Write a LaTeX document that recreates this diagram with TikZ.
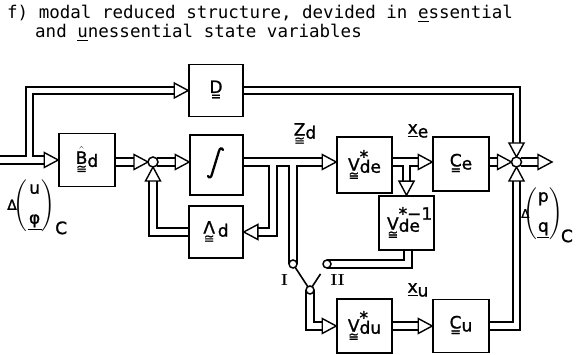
\documentclass[tikz,border=0pt]{standalone}
\usepackage{amsmath}
\usepackage{fontspec}
\newfontfamily\dv[FakeBold=1.2]{DejaVu Sans}
\newfontfamily\dvm{DejaVu Sans Mono}
\usetikzlibrary{calc,backgrounds}
\newcommand\mtx[2]{\vtop{\offinterlineskip\halign{\hfil##\hfil\cr\hbox{#1}\cr\noalign{\kern1.8pt}\hbox{\fontsize{12.5}{12}\selectfont #2}\cr}}}
\newcommand\triR[1]{\draw[tri] #1 -- ++(-14,-7.5) -- ++(0,15) -- cycle;}
\newcommand\triL[1]{\draw[tri] #1 -- ++(14,-7.5) -- ++(0,15) -- cycle;}
\newcommand\triD[1]{\draw[tri] #1 -- ++(-7.5,-14) -- ++(15,0) -- cycle;}
\newcommand\triU[1]{\draw[tri] #1 -- ++(-7.5,14) -- ++(15,0) -- cycle;}
\newcommand\allbuses[1]{%
\draw[#1] (inL) -- ($(B.west)+(-14,0)$);
\draw[#1] (inJ) -- (inT) -- ($(D.west)+(-14,0)$);
\draw[#1] (B.east |- S1.center) -- ($(S1.center)+(-19,0)$);
\draw[#1] ($(S1.center)+(4,0)$) -- ($(Int.west |- S1.center)+(-14,0)$);
\draw[#1] (Lam.west) -- (Lam.west -| S1.center) -- ($(S1.center)+(0,19)$);
\draw[#1] (Int.east |- S1.center) -- ($(Vde.west |- S1.center)+(-14,0)$);
\draw[#1] (jL) -- (jL |- Lam.east) -- ($(Lam.east)+(14,0)$);
\draw[#1] (jS) -- (cI.center);
\draw[#1] (Vde.east |- S1.center) -- ($(Ce.west |- S1.center)+(-14,0)$);
\draw[#1] (jV) -- ($(Vinv.north)+(0,-14)$);
\draw[#1] (vo) -- (vo |- cII.center) -- (cII.center);
\draw[#1] (cC.center) -- (cC.center |- Vdu.west) -- ($(Vdu.west)+(-14,0)$);
\draw[#1] (Vdu.east) -- ($(Cu.west)+(-14,0)$);
\draw[#1] (Ce.east |- S2.center) -- ($(S2.center)+(-19,0)$);
\draw[#1] ($(S2.center)+(4,0)$) -- ($(out)+(-14,0)$);
\draw[#1] (D.east) -- (D.east -| S2.center) -- ($(S2.center)+(0,-19)$);
\draw[#1] (Cu.east) -- (Cu.east -| S2.center) -- ($(S2.center)+(0,19)$);
}
\begin{document}
\begin{tikzpicture}[x=1pt,y=-1pt,
  box/.style={draw, line width=1.6pt, fill=white, inner sep=0pt, font=\dv\fontsize{17}{19}\selectfont},
  tri/.style={draw, line width=1.4pt, fill=white, line join=miter},
  busout/.style={line width=9.3pt, line join=miter, black},
  busin/.style={line width=5.9pt, line join=miter, white},
  sig/.style={line width=1.6pt},
  sw/.style={circle, draw, line width=1.5pt, fill=white, minimum size=8pt, inner sep=0pt},
  junc/.style={circle, draw, line width=1.5pt, fill=white, minimum size=10pt, inner sep=0pt},
  lbl/.style={font=\dv\fontsize{17}{19}\selectfont, inner sep=0pt},
  ttl/.style={font=\dvm\fontsize{17.5}{20}\selectfont, inner sep=0pt, anchor=base west},
  roman/.style={font=\bfseries\fontsize{16}{16}\selectfont, inner sep=0pt}]
\useasboundingbox (0,0) rectangle (579,355);

% title
\node[ttl] (t1) at (7,19) {f) modal reduced structure, devided in \underline{e}ssential};
\node[ttl] (t2) at (35,38) {and \underline{u}nessential state variables};

% blocks
\node[box, minimum width=54pt, minimum height=52pt] (D) at (216,90.5) {\mtx{D}{=}};
\node[box, minimum width=56pt, minimum height=53pt] (B) at (87,160) {\mtx{$\hat{\hbox{B}}$}{≅}\raisebox{-3pt}{d}};
\node[box, minimum width=53pt, minimum height=60pt] (Int) at (216.5,165) {};
\node[box, minimum width=54pt, minimum height=52pt] (Lam) at (216,232) {\mtx{Λ}{≅}\,\raisebox{-3pt}{d}};
\node[box, minimum width=55pt, minimum height=56pt] (Vde) at (364.5,165) {\mtx{V}{≅}\rlap{\raisebox{8pt}{*}}\raisebox{-2pt}{de}};
\node[box, minimum width=56pt, minimum height=54pt] (Ce) at (461,164) {\mtx{C}{=}\raisebox{-3pt}{e}};
\node[box, minimum width=55pt, minimum height=54pt] (Vinv) at (406.5,223) {\mtx{V}{≅}\rlap{\raisebox{10pt}{*−1}}\raisebox{-2pt}{de}\hspace*{6pt}};
\node[box, minimum width=55pt, minimum height=54pt] (Vdu) at (364.5,326) {\mtx{V}{≅}\rlap{\raisebox{8pt}{*}}\raisebox{-2pt}{du}};
\node[box, minimum width=56pt, minimum height=53pt] (Cu) at (461,326) {\mtx{C}{=}\raisebox{-3pt}{u}};
% integral sign
\draw[line width=2.3pt, line cap=round] ($(Int.center)+(-8.5,11)$) .. controls ($(Int.center)+(-7.5,13.5)$) and ($(Int.center)+(-5,12.5)$) .. ($(Int.center)+(-4.5,9)$) -- ($(Int.center)+(2.5,-14)$) .. controls ($(Int.center)+(3.3,-17)$) and ($(Int.center)+(5.5,-17.5)$) .. ($(Int.center)+(6.5,-15)$);

% junctions and switch
\node[junc] (S1) at (153,162) {};
\node[junc] (S2) at (516.5,162) {};
\node[sw] (cI) at (293,264) {};
\node[sw] (cII) at (327,264) {};
\node[sw] (cC) at (310,290) {};

\coordinate (inL) at (0,160);
\coordinate (inJ) at (29.5,160);
\coordinate (inT) at (29.5,90.5);
\coordinate (jL) at (273,162);
\coordinate (jS) at (293,162);
\coordinate (jV) at (406.5,162);
\coordinate (vo) at ($(Vinv.south)+(1.5,0)$);
\coordinate (out) at (552,162);

\begin{scope}[on background layer]
\allbuses{busout}
\allbuses{busin}
\triR{(B.west)}
\triR{(D.west)}
\triR{($(S1.center)+(-5,0)$)}
\triR{(Int.west |- S1.center)}
\triU{($(S1.center)+(0,5)$)}
\triL{(Lam.east)}
\triR{(Vde.west |- S1.center)}
\triR{(Ce.west |- S1.center)}
\triD{(Vinv.north)}
\triR{(Vdu.west)}
\triR{(Cu.west)}
\triR{($(S2.center)+(-5,0)$)}
\triR{(out)}
\triD{($(S2.center)+(0,-5)$)}
\triU{($(S2.center)+(0,5)$)}
\draw[sig] (cI.center) -- (cC.center);
\draw[sig] (cC.center) -- ($(cC.center)!0.62!(cII.center)$);
\end{scope}

% labels
\node[lbl] (zd) at (305,134) {\mtx{Z}{≅}\raisebox{-3pt}{d}};
\node[lbl] (xe) at (418,131) {\underline{x}\raisebox{-4pt}{e}};
\node[lbl] (xu) at (418,290) {\underline{x}\raisebox{-4pt}{u}};
\node[roman] (lI) at (284.5,280) {I};
\node[roman] (lII) at (337.5,280) {II};
\node[lbl, anchor=west] (inlab) at (7,207) {{\fontsize{14}{14}\selectfont Δ}$\!\left(\vcenter{\hbox{\begin{tabular}{@{}c@{}}u\\[11pt]\underline{\makebox[14pt]{φ}}\end{tabular}}}\right)_{\hbox{\raisebox{-2pt}{C}}}$};
\node[lbl, anchor=west] (outlab) at (521,215) {{\fontsize{12}{12}\selectfont Δ}$\!\!\left(\vcenter{\hbox{\begin{tabular}{@{}c@{}}p\\[11pt]\underline{\makebox[12pt]{q}}\end{tabular}}}\right)_{\hbox{\kern-2pt\raisebox{-2pt}{C}}}$};
\end{tikzpicture}
\end{document}
